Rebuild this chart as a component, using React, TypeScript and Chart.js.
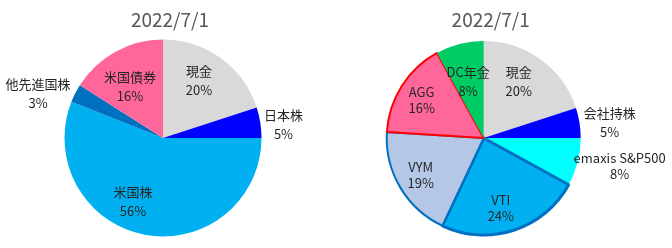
import React, { useEffect, useRef } from "react";
import { Chart, registerables } from "chart.js";

Chart.register(...registerables);

const TITLE = "2022/7/1";

const leftLabels = ["現金", "日本株", "米国株", "他先進国株", "米国債券"];
const leftValues = [20, 5, 56, 3, 16];
const leftColors = ["#D9D9D9", "#0000FF", "#00B0F0", "#0070C0", "#FF6699"];
const leftBorderColors = ["#FFFFFF", "#FFFFFF", "#FFFFFF", "#FFFFFF", "#FFFFFF"];
const leftBorderWidths = [0, 0, 0, 0, 0];
const leftLabelAngles = [32, 83.6, 205.3, 289.4, 327.4];
const leftLabelRadii = [0.688, 1.231, 0.713, 1.345, 0.621];

const rightLabels = ["現金", "会社持株", "emaxis S&P500", "VTI", "VYM", "AGG", "DC年金"];
const rightValues = [20, 5, 8, 24, 19, 16, 8];
const rightColors = ["#D9D9D9", "#0000FF", "#00FFFF", "#00B0F0", "#B4C7E7", "#FF6699", "#00CC66"];
const rightBorderColors = ["#FFFFFF", "#FFFFFF", "#FFFFFF", "#0070C0", "#0070C0", "#FF0000", "#FFFFFF"];
const rightBorderWidths = [0, 0, 0, 3, 2, 2, 0];
const rightLabelAngles = [31.8, 82.8, 101.7, 166.2, 239.5, 301.6, 344.6];
const rightLabelRadii = [0.684, 1.309, 1.431, 0.741, 0.754, 0.751, 0.603];

const FONT = "'Noto Sans CJK JP', 'Noto Sans', sans-serif";

type PieProps = {
  labels: string[];
  values: number[];
  colors: string[];
  borderColors: string[];
  borderWidths: number[];
  labelAngles: number[];
  labelRadii: number[];
  width: number;
  padRight: number;
};

function PieChart(props: PieProps) {
  const ref = useRef<HTMLCanvasElement | null>(null);
  useEffect(() => {
    if (!ref.current) return;
    const total = props.values.reduce((a, b) => a + b, 0);
    const labelPlugin = {
      id: "customLabels",
      afterDraw(chart: any) {
        const ctx = chart.ctx;
        const meta = chart.getDatasetMeta(0);
        const arc0 = meta.data[0];
        const cx = arc0.x;
        const cy = arc0.y;
        const R = arc0.outerRadius;
        ctx.save();
        // title
        ctx.fillStyle = "#595959";
        ctx.font = `19px ${FONT}`;
        ctx.textAlign = "center";
        ctx.textBaseline = "middle";
        ctx.fillText(TITLE, cx + 7, 20);
        // data labels
        ctx.fillStyle = "#262626";
        ctx.font = `13px ${FONT}`;
        props.labels.forEach((lab, i) => {
          const a = (props.labelAngles[i] * Math.PI) / 180;
          const d = props.labelRadii[i] * R;
          const x = cx + Math.sin(a) * d;
          const y = cy - Math.cos(a) * d;
          const cjk = /[^\x00-\x7F]/.test(lab);
          const gap = cjk ? 19 : 16;
          const pct = Math.round((props.values[i] / total) * 100) + "%";
          ctx.fillText(lab, x, y - gap / 2);
          ctx.fillText(pct, x, y + gap / 2);
        });
        ctx.restore();
      },
    };
    const chart = new Chart(ref.current, {
      type: "pie",
      data: {
        labels: props.labels,
        datasets: [
          {
            data: props.values,
            backgroundColor: props.colors,
            borderColor: props.borderColors,
            borderWidth: props.borderWidths,
          },
        ],
      },
      options: {
        responsive: false,
        animation: false,
        layout: { padding: { top: 39.5, bottom: 11.5, left: 0, right: props.padRight } },
        plugins: {
          legend: { display: false },
          title: { display: false },
          tooltip: { enabled: false },
        },
      },
      plugins: [labelPlugin],
    });
    return () => chart.destroy();
  }, []);
  return <canvas ref={ref} width={props.width} height={248} style={{ display: "block" }} />;
}

export default function App() {
  return (
    <div style={{ position: "fixed", left: 0, top: 0, width: 672, height: 248, background: "#fff", overflow: "hidden" }}>
      <div style={{ position: "absolute", left: 0, top: 0 }}>
        <PieChart
          labels={leftLabels}
          values={leftValues}
          colors={leftColors}
          borderColors={leftBorderColors}
          borderWidths={leftBorderWidths}
          labelAngles={leftLabelAngles}
          labelRadii={leftLabelRadii}
          width={326}
          padRight={0}
        />
      </div>
      <div style={{ position: "absolute", left: 322, top: 0 }}>
        <PieChart
          labels={rightLabels}
          values={rightValues}
          colors={rightColors}
          borderColors={rightBorderColors}
          borderWidths={rightBorderWidths}
          labelAngles={rightLabelAngles}
          labelRadii={rightLabelRadii}
          width={350}
          padRight={26.6}
        />
      </div>
    </div>
  );
}
